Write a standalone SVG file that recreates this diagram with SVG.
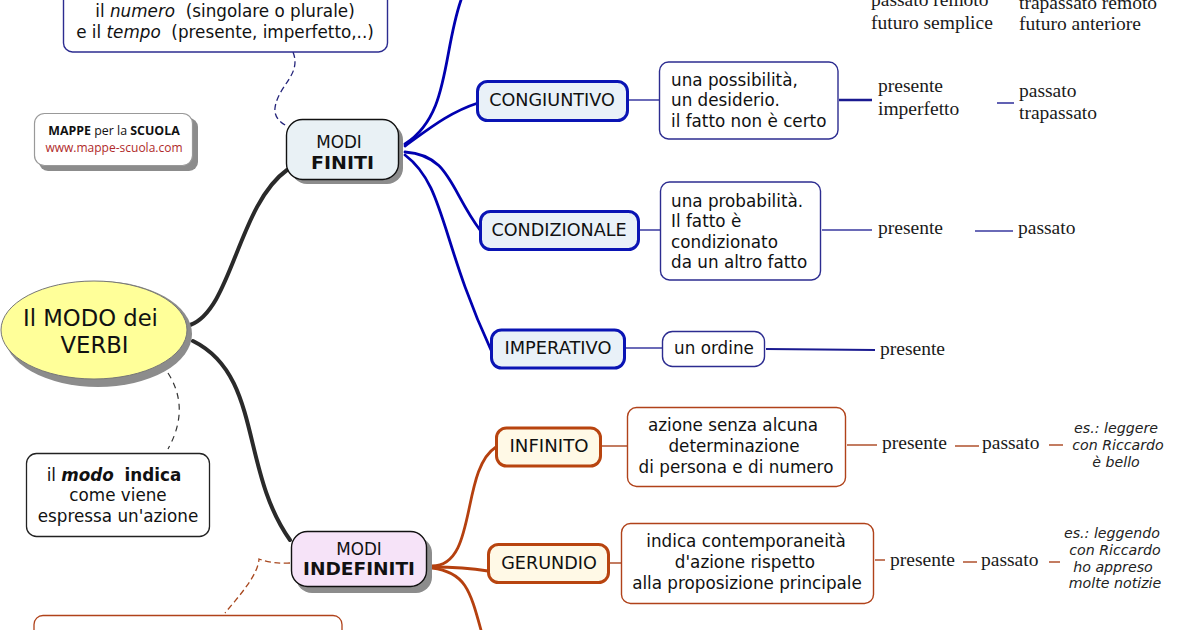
<svg xmlns="http://www.w3.org/2000/svg" width="1200" height="630" viewBox="0 0 1200 630">
<style>
text{font-family:"DejaVu Sans",Verdana,sans-serif;font-size:16.8px;fill:#111;text-anchor:middle;white-space:pre}
.l{text-anchor:start}
.c{font-size:17.6px}
.b{font-size:17px;font-weight:700}
.s{font-family:"Liberation Serif","Times New Roman",serif;font-size:19.5px;text-anchor:start;fill:#1a1a1a}
.e{font-size:14.2px;font-style:italic;fill:#222}
.sh{fill:#8c8c8c}
.blue{fill:none;stroke:#0000b0;stroke-width:2.8;stroke-linecap:round}
.black{fill:none;stroke:#2a2a2a;stroke-width:4;stroke-linecap:round}
.org{fill:none;stroke:#b5400f;stroke-width:2.8;stroke-linecap:round}
.nl{fill:none;stroke:#3a3aa0;stroke-width:1.6}
.ol{fill:none;stroke:#b0522e;stroke-width:1.6}
.bn{fill:#e9f1f8;stroke:#0a14b4;stroke-width:3}
.on{fill:#fff9e6;stroke:#b8440f;stroke-width:3}
.nb{fill:#fff;stroke:#2c2c90;stroke-width:1.4}
.ob{fill:#fff;stroke:#b0421a;stroke-width:1.4}
</style>
<g id="connectors">
<path class="black" d="M190 325C232 310 238 205 287 170"/>
<path class="black" d="M193 341C262 375 240 470 290 540"/>
<path class="blue" d="M405 144C450 115 442 55 461 0"/>
<path class="blue" d="M405 146C430 128 450 112 478 103"/>
<path class="blue" d="M405 152C450 155 450 190 480 230"/>
<path class="blue" d="M405 155C445 185 440 240 491 350"/>
<path class="org" d="M432 566C478 566 460 470 496 447"/>
<path class="org" d="M432 567C455 567 470 568 488 571"/>
<path class="org" d="M432 568C465 572 470 590 481 630"/>
<path fill="none" stroke="#24247a" stroke-width="1.3" stroke-dasharray="6 3.5" d="M293 52C302 75 278 85 275 108C274 116 279 122 287 126"/>
<path fill="none" stroke="#333" stroke-width="1.2" stroke-dasharray="6 5" d="M168 373C182 395 184 420 168 449"/>
<path fill="none" stroke="#a8481f" stroke-width="1.3" stroke-dasharray="6 3.5" d="M290 563Q272 564 259 559C258 575 240 595 225 613"/>
<path class="nl" d="M627 100H660"/>
<path class="nl" style="stroke:#1a1a90;stroke-width:2.4" d="M839 100H872"/>
<path class="nl" d="M997 103H1014"/>
<path class="nl" d="M640 230H660M822 230H872M975 231H1013"/>
<path class="nl" d="M626 348H663"/>
<path class="nl" style="stroke:#1a1a90;stroke-width:1.8" d="M766 349L875 350"/>
<path class="ol" d="M601 446H627M847 445H877M955 446H979M1049 445H1063"/>
<path class="ol" d="M608 563H622M875 560H885M963 562H977M1049 562H1060"/>
</g>
<g id="note-top"><rect class="nb" x="63.500" y="-40" width="324" height="92" rx="9"/>
<text x="225" y="17">il <tspan font-style="italic">numero</tspan>  (singolare o plurale)</text>
<text x="225" y="38">e il <tspan font-style="italic">tempo</tspan>  (presente, imperfetto,..)</text></g>
<g id="logo"><rect class="sh" x="39" y="118" width="159" height="53" rx="9"/>
<rect x="34.500" y="113.500" width="158" height="52" rx="10" fill="#fff" stroke="#999" stroke-width="1.2"/>
<text x="114" y="135" style="font-family:'Open Sans',sans-serif;font-size:12.400px"><tspan font-weight="700">MAPPE</tspan> per la <tspan font-weight="700">SCUOLA</tspan></text>
<text x="114" y="152" style="font-family:'Open Sans',sans-serif;font-size:12px;fill:#b02a2a">www.mappe-scuola.com</text></g>
<g id="modi-finiti"><rect class="sh" x="291" y="124" width="112" height="60" rx="16"/>
<rect x="286.500" y="119.500" width="112" height="60" rx="16" fill="#e9f1f5" stroke="#111" stroke-width="1.400"/>
<text x="339" y="148">MODI</text><text class="b" x="342.500" y="169" textLength="63" lengthAdjust="spacingAndGlyphs">FINITI</text></g>
<g id="modo-verbi"><ellipse class="sh" cx="98" cy="334" rx="94" ry="53"/>
<ellipse cx="94" cy="330" rx="93" ry="49" fill="#ffff99" stroke="#777" stroke-width="1"/>
<text x="90.500" y="326" style="font-size:22.700px">Il MODO dei</text><text x="94.500" y="353" style="font-size:22.700px">VERBI</text></g>
<g id="note-modo"><rect x="26.500" y="453.500" width="183" height="83" rx="10" fill="#fff" stroke="#222" stroke-width="1.300"/>
<text x="114" y="481">il <tspan font-weight="700" font-style="italic">modo</tspan>  <tspan font-weight="700">indica</tspan></text>
<text x="118" y="501">come viene</text><text x="118" y="522">espressa un'azione</text></g>
<g id="modi-indefiniti"><rect class="sh" x="296" y="537" width="136" height="56" rx="16"/>
<rect x="291.500" y="531.500" width="135" height="55" rx="16" fill="#f6e3f8" stroke="#111" stroke-width="1.400"/>
<text x="359" y="555">MODI</text><text class="b" x="359" y="575" textLength="112" lengthAdjust="spacingAndGlyphs">INDEFINITI</text></g>
<g id="note-bottom"><rect x="34" y="615.500" width="308" height="40" rx="9" fill="#fff" stroke="#b0421a" stroke-width="1.300"/></g>
<g id="congiuntivo"><rect class="bn" x="477.500" y="81.500" width="150" height="39" rx="10"/><text class="c" x="552" y="106">CONGIUNTIVO</text></g>
<g id="congiuntivo-note"><rect class="nb" x="659.500" y="62" width="178.500" height="77" rx="9"/>
<text class="l" x="671" y="86">una possibilità,</text><text class="l" x="671" y="106">un desiderio.</text><text class="l" x="671" y="127">il fatto non è certo</text></g>
<g id="congiuntivo-tempi"><text class="s" x="878" y="92">presente</text><text class="s" x="878" y="115">imperfetto</text><text class="s" x="1019" y="97">passato</text><text class="s" x="1019" y="119">trapassato</text></g>
<g id="indicativo-tempi"><text class="s" x="871" y="6">passato remoto</text><text class="s" x="871" y="29">futuro semplice</text><text class="s" x="1019" y="9">trapassato remoto</text><text class="s" x="1019" y="30">futuro anteriore</text></g>
<g id="condizionale"><rect class="bn" x="480.500" y="211.500" width="158" height="38" rx="10"/><text class="c" x="559" y="236">CONDIZIONALE</text></g>
<g id="condizionale-note"><rect class="nb" x="660.500" y="182" width="160" height="98" rx="9"/>
<text class="l" x="671" y="207">una probabilità.</text><text class="l" x="671" y="227">Il fatto è</text><text class="l" x="671" y="248">condizionato</text><text class="l" x="671" y="268">da un altro fatto</text></g>
<g id="condizionale-tempi"><text class="s" x="878" y="234">presente</text><text class="s" x="1018" y="234">passato</text></g>
<g id="imperativo"><rect class="bn" x="491.500" y="330" width="133" height="38" rx="10"/><text class="c" x="558" y="354" textLength="107" lengthAdjust="spacingAndGlyphs">IMPERATIVO</text></g>
<g id="imperativo-note"><rect class="nb" x="662.500" y="331.500" width="102" height="35" rx="10"/><text x="714" y="354">un ordine</text></g>
<g id="imperativo-tempi"><text class="s" x="880" y="355">presente</text></g>
<g id="infinito"><rect class="on" x="496.500" y="428" width="104" height="38" rx="10"/><text class="c" x="549" y="452" textLength="79" lengthAdjust="spacingAndGlyphs">INFINITO</text></g>
<g id="infinito-note"><rect class="ob" x="627.500" y="407.500" width="218" height="79" rx="9"/>
<text x="733" y="431">azione senza alcuna</text><text x="734" y="452">determinazione</text><text x="736" y="473">di persona e di numero</text></g>
<g id="infinito-tempi"><text class="s" x="882" y="449">presente</text><text class="s" x="982" y="449">passato</text>
<text class="e" x="1116" y="433">es.: leggere</text><text class="e" x="1118" y="450">con Riccardo</text><text class="e" x="1116" y="467">è bello</text></g>
<g id="gerundio"><rect class="on" x="488.500" y="544.500" width="120" height="38" rx="10"/><text class="c" x="549" y="569">GERUNDIO</text></g>
<g id="gerundio-note"><rect class="ob" x="621.500" y="523.500" width="252" height="80" rx="9"/>
<text x="746" y="547">indica contemporaneità</text><text x="745" y="568">d'azione rispetto</text><text x="747" y="589">alla proposizione principale</text></g>
<g id="gerundio-tempi"><text class="s" x="890" y="566">presente</text><text class="s" x="981" y="566">passato</text>
<text class="e" x="1112" y="538">es.: leggendo</text><text class="e" x="1115" y="555">con Riccardo</text><text class="e" x="1113" y="572">ho appreso</text><text class="e" x="1115" y="588">molte notizie</text></g>
</svg>
